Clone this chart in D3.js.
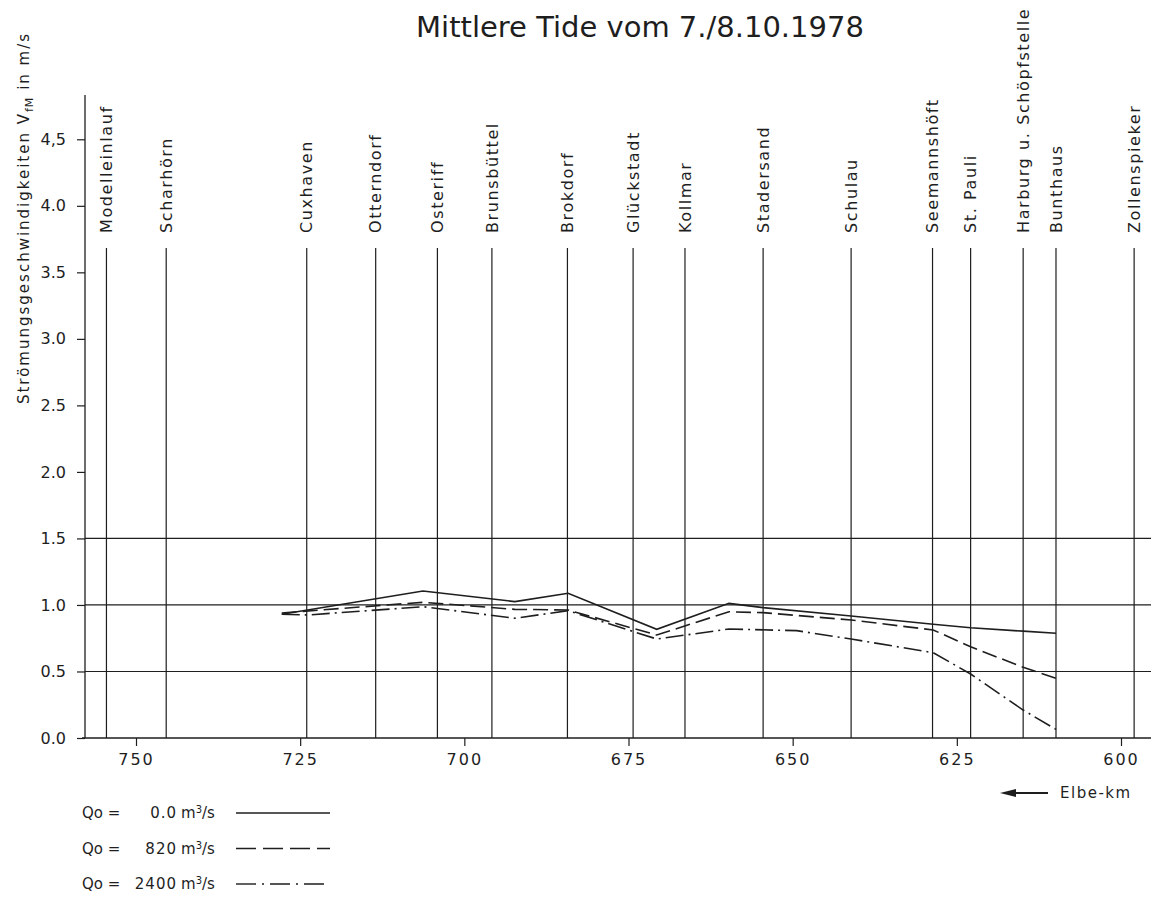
<!DOCTYPE html>
<html lang="de">
<head>
<meta charset="utf-8">
<title>Mittlere Tide vom 7./8.10.1978</title>
<script src="https://cdn.jsdelivr.net/npm/d3@7/dist/d3.min.js"></script>
<style>
    body { margin: 0; background: #fff; }
    svg { display: block; }
    text { font-family: "DejaVu Sans", sans-serif; fill: #1e1e1e; }
</style>
</head>
<body>
<svg id="chart"></svg>
<script>
// Elbe-km ticks and the velocity ticks (labels as printed)
var kmTicks = [750, 725, 700, 675, 650, 625, 600];
var vTicks = [0, 0.5, 1.0, 1.5, 2.0, 2.5, 3.0, 3.5, 4.0, 4.5];
var vTickLabels = ["0.0", "0.5", "1.0", "1.5", "2.0", "2.5", "3.0", "3.5", "4.0", "4,5"];
var gridValues = [0.5, 1.0, 1.5];

// gauge stations along the river
var stations = ["Modelleinlauf", "Scharhörn", "Cuxhaven", "Otterndorf", "Osteriff", "Brunsbüttel",
    "Brokdorf", "Glückstadt", "Kollmar", "Stadersand", "Schulau", "Seemannshöft", "St. Pauli",
    "Harburg u. Schöpfstelle", "Bunthaus", "Zollenspieker"];
var stationKm = [754.5, 745.4, 724.0, 713.5, 704.1, 695.8, 684.3, 674.3, 666.4, 654.5, 641.1,
    628.7, 622.9, 614.9, 609.9, 598.0];

// mean flood current velocity, Qo = 0 m3/s
var kmQ0 = [727.8, 706.3, 692.3, 684.2, 670.7, 659.7, 654.5, 641.1, 628.6, 622.9, 614.9, 609.9];
var vQ0 = [0.93, 1.105, 1.025, 1.088, 0.817, 1.012, 0.98, 0.917, 0.855, 0.829, 0.803, 0.787];
// Qo = 820 m3/s
var kmQ820 = [727.8, 706.3, 692.3, 684.2, 670.7, 659.7, 654.5, 641.1, 628.6, 622.9, 614.9, 609.9];
var vQ820 = [0.94, 1.02, 0.967, 0.962, 0.774, 0.949, 0.942, 0.887, 0.812, 0.686, 0.531, 0.449];
// Qo = 2400 m3/s
var kmQ2400 = [727.8, 723.7, 706.3, 692.3, 684.2, 670.7, 659.7, 649.4, 641.1, 628.6, 622.9, 614.9, 609.9];
var vQ2400 = [0.93, 0.925, 0.987, 0.9, 0.957, 0.744, 0.819, 0.807, 0.744, 0.641, 0.481, 0.21, 0.065];

var legendQ = ["0.0", "820", "2400"];

var width = 1151,
    height = 897;

var svg = d3.select("#chart")
    .attr("width", width)
    .attr("height", height);

var x = d3.scaleLinear().domain([750, 600]).range([136, 1121]);
var y = d3.scaleLinear().domain([0, 4.5]).range([738, 139.3]);

var axisX = 85,        // y axis position
    yAxisTop = 95,
    stationTop = 248,
    ink = "#1e1e1e";

var series = [
    { km: kmQ0, v: vQ0, dash: null, legendDash: null },
    { km: kmQ820, v: vQ820, dash: "15,6", legendDash: "20,7" },
    { km: kmQ2400, v: vQ2400, dash: "18,5,2,5", legendDash: "20,6,2,6" }
];

// title
svg.append("text")
    .attr("x", 640)
    .attr("y", 37)
    .attr("text-anchor", "middle")
    .style("font-size", "29px")
    .text("Mittlere Tide vom 7./8.10.1978");

// horizontal grid lines
svg.append("g").selectAll("line")
    .data(gridValues)
    .enter().append("line")
    .attr("x1", axisX).attr("x2", width)
    .attr("y1", function(d) { return y(d); })
    .attr("y2", function(d) { return y(d); })
    .attr("stroke", ink).attr("stroke-width", 1.2);

// station lines + labels
var st = svg.append("g").selectAll("g")
    .data(stations)
    .enter().append("g")
    .attr("transform", function(d, i) { return "translate(" + x(stationKm[i]) + ",0)"; });

st.append("line")
    .attr("y1", stationTop).attr("y2", y(0))
    .attr("stroke", ink).attr("stroke-width", 1.2);

st.append("text")
    .attr("transform", "translate(0," + (stationTop - 15) + ") rotate(-90)")
    .attr("dy", "0.36em")
    .style("font-size", "16px")
    .style("letter-spacing", "1.6px")
    .text(function(d) { return d; });

// y axis
var yAxis = d3.axisLeft(y)
    .tickValues(vTicks)
    .tickSize(8)
    .tickPadding(11)
    .tickFormat(function(d, i) { return vTickLabels[i]; });

var gy = svg.append("g")
    .attr("transform", "translate(" + axisX + ",0)")
    .call(yAxis);
gy.select(".domain").remove();
gy.selectAll("line").attr("stroke", ink).attr("stroke-width", 1.2);
gy.selectAll("text").style("font-size", "16px").style("font-family", "DejaVu Sans").attr("fill", ink);
gy.append("line")
    .attr("y1", yAxisTop).attr("y2", y(0))
    .attr("stroke", ink).attr("stroke-width", 1.3);

// y axis title
var yt = svg.append("text")
    .attr("transform", "translate(24," + 218 + ") rotate(-90)")
    .attr("text-anchor", "middle")
    .attr("dy", "0.35em")
    .style("font-size", "15px")
    .style("letter-spacing", "2px");
yt.append("tspan").text("Strömungsgeschwindigkeiten V");
yt.append("tspan").attr("dy", 4).style("font-size", "11px").style("letter-spacing", "1px").text("fM");
yt.append("tspan").attr("dy", -4).text(" in m/s");

// x axis
var xAxis = d3.axisBottom(x)
    .tickValues(kmTicks)
    .tickSize(8)
    .tickPadding(8)
    .tickFormat(d3.format("d"));

var gx = svg.append("g")
    .attr("transform", "translate(0," + y(0) + ")")
    .call(xAxis);
gx.select(".domain").remove();
gx.selectAll("line").attr("stroke", ink).attr("stroke-width", 1.2);
gx.selectAll("text").style("font-size", "16px").style("font-family", "DejaVu Sans")
    .style("letter-spacing", "2px").attr("fill", ink);
gx.append("line")
    .attr("x1", axisX - 3).attr("x2", width)
    .attr("stroke", ink).attr("stroke-width", 1.3);

// Elbe-km arrow
var arrow = svg.append("g").attr("transform", "translate(0,793)");
arrow.append("line")
    .attr("x1", 1010).attr("x2", 1048)
    .attr("stroke", ink).attr("stroke-width", 2);
arrow.append("path")
    .attr("d", "M1000,0 L1016,-4 L1016,4 Z")
    .attr("fill", ink);
arrow.append("text")
    .attr("x", 1060).attr("dy", "0.35em")
    .style("font-size", "15px")
    .style("letter-spacing", "1.5px")
    .text("Elbe-km");

// series lines
var line = d3.line()
    .x(function(d) { return x(d[0]); })
    .y(function(d) { return y(d[1]); });

svg.append("g").selectAll("path")
    .data(series)
    .enter().append("path")
    .attr("d", function(s) { return line(d3.zip(s.km, s.v)); })
    .attr("fill", "none")
    .attr("stroke", ink)
    .attr("stroke-width", 1.6)
    .attr("stroke-dasharray", function(s) { return s.dash; });

// legend
var leg = svg.append("g").selectAll("g")
    .data(series)
    .enter().append("g")
    .attr("transform", function(d, i) { return "translate(0," + (813 + i * 35.5) + ")"; });

leg.append("text")
    .attr("x", 82).attr("dy", "0.35em")
    .style("font-size", "15px")
    .text("Qo =");
leg.append("text")
    .attr("x", 177).attr("dy", "0.35em")
    .attr("text-anchor", "end")
    .style("font-size", "15px")
    .style("letter-spacing", "1px")
    .text(function(d, i) { return legendQ[i]; });
var unit = leg.append("text")
    .attr("x", 181).attr("dy", "0.35em")
    .style("font-size", "15px");
unit.append("tspan").text("m");
unit.append("tspan").attr("dy", -5).style("font-size", "10px").text("3");
unit.append("tspan").attr("dy", 5).text("/s");
leg.append("line")
    .attr("x1", 236).attr("x2", 330)
    .attr("stroke", ink).attr("stroke-width", 1.4)
    .attr("stroke-dasharray", function(s) { return s.legendDash; });
</script>
</body>
</html>
